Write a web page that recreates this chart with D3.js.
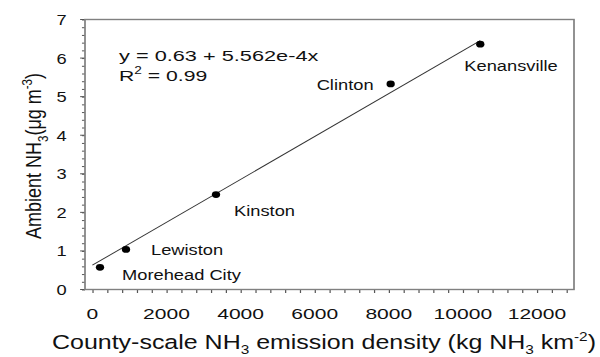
<!DOCTYPE html>
<html>
<head>
<meta charset="utf-8">
<script src="https://cdn.jsdelivr.net/npm/d3@7"></script>
<style>
  html, body { margin: 0; padding: 0; background: #fff; }
  svg { display: block; font-family: "Liberation Sans", Arial, sans-serif; }
</style>
</head>
<body>
<svg id="chart" width="600" height="357"></svg>
<script>
// ---- Dados
const sites = ['Morehead City', 'Lewiston', 'Kinston', 'Clinton', 'Kenansville'];
const emission = [205, 907, 3336, 8051, 10470];
const ambient = [0.575, 1.04, 2.46, 5.33, 6.36];
const xTicks = [0, 2000, 4000, 6000, 8000, 10000, 12000];
const yTicks = [0, 1, 2, 3, 4, 5, 6, 7];
const fit = { a: 0.63, b: 5.562e-4 };

// the original figure is stretched sideways, so draw narrow and stretch
const SX = 1.22;
const svg = d3.select('#chart')
    .attr('viewBox', `0 0 ${600 / SX} 357`)
    .attr('preserveAspectRatio', 'none');

const margens = { left: 85, right: 574, top: 19.5, bottom: 289.5 };

const x = d3.scaleLinear()
    .domain([-200, 13000])
    .range([margens.left / SX, margens.right / SX]);

const y = d3.scaleLinear()
    .domain([0, 7])
    .range([margens.bottom, margens.top]);

const frameColor = '#808080';

// ---- Eixos
const xAxis = svg.append('g')
    .attr('transform', `translate(0, ${margens.bottom})`);
xAxis.call(d3.axisBottom(x).tickValues(d3.range(0, 13000, 400)).tickSize(3.5).tickFormat(''))
    .call(g => g.select('.domain').remove())
    .call(g => g.selectAll('line').attr('stroke', '#555'));
xAxis.selectAll('.lbl')
    .data(xTicks).join('text')
    .attr('class', 'lbl')
    .attr('transform', d => `translate(${x(d)}, 29) scale(1.15, 1)`)
    .attr('text-anchor', 'middle')
    .attr('font-size', '15px').attr('fill', '#111')
    .text(d => d);

const yAxis = svg.append('g')
    .attr('transform', `translate(${margens.left / SX}, 0)`);
yAxis.call(d3.axisLeft(y).tickValues(d3.range(0, 7.01, 0.2)).tickSize(2.5).tickFormat(''))
    .call(g => g.select('.domain').remove())
    .call(g => g.selectAll('line').attr('stroke', '#555'));
yAxis.selectAll('.major')
    .data(yTicks).join('line')
    .attr('class', 'major')
    .attr('x1', -4).attr('x2', 0)
    .attr('y1', d => y(d)).attr('y2', d => y(d))
    .attr('stroke', '#555');
yAxis.selectAll('.lbl')
    .data(yTicks).join('text')
    .attr('class', 'lbl')
    .attr('x', -15).attr('y', d => y(d) + 5.5)
    .attr('text-anchor', 'end')
    .attr('font-size', '15px').attr('fill', '#111')
    .text(d => d);

// ---- Moldura
svg.append('rect')
    .attr('x', x.range()[0]).attr('y', margens.top)
    .attr('width', x.range()[1] - x.range()[0])
    .attr('height', margens.bottom - margens.top)
    .attr('fill', 'none')
    .attr('stroke', frameColor).attr('stroke-width', 1.4);

// ---- Regressão
const xLine = [0, d3.max(emission)];
svg.append('line')
    .attr('x1', x(xLine[0])).attr('y1', y(fit.a + fit.b * xLine[0]))
    .attr('x2', x(xLine[1])).attr('y2', y(fit.a + fit.b * xLine[1]))
    .attr('stroke', '#333').attr('stroke-width', 0.9);

// ---- Pontos
const points = sites.map((s, i) => ({ site: s, x: emission[i], y: ambient[i] }));
svg.selectAll('circle')
    .data(points).join('circle')
    .attr('cx', d => x(d.x)).attr('cy', d => y(d.y))
    .attr('r', 3.4)
    .attr('fill', '#000');

// rótulos: deslocamento em px de tela a partir do ponto
const labelOffsets = {
    'Morehead City': [22, 13],
    'Lewiston': [25, 6],
    'Kinston': [18, 21],
    'Clinton': [-74, 6.5],
    'Kenansville': [-16, 27]
};
svg.selectAll('.site')
    .data(points).join('text')
    .attr('class', 'site')
    .attr('x', d => x(d.x) + labelOffsets[d.site][0] / SX)
    .attr('y', d => y(d.y) + labelOffsets[d.site][1])
    .attr('font-size', '15px').attr('fill', '#111')
    .text(d => d.site);

// ---- Equação
const eq = svg.append('g').attr('font-size', '15.5px').attr('fill', '#111');
eq.append('text')
    .attr('transform', `translate(${119 / SX}, 61) scale(1.15, 1)`)
    .text(`y = ${fit.a} + ${fit.b.toExponential(3)}x`);
const r2 = eq.append('text').attr('transform', `translate(${119 / SX}, 81) scale(1.12, 1)`);
r2.append('tspan').text('R');
r2.append('tspan').attr('font-size', '10px').attr('dy', -7).text('2');
r2.append('tspan').attr('dy', 7).text(' = 0.99');

// ---- Títulos
const xt = svg.append('text')
    .attr('transform', `translate(${324 / SX}, 349) scale(1.05, 1)`)
    .attr('text-anchor', 'middle')
    .attr('font-size', '19.5px').attr('fill', '#111');
xt.append('tspan').text('County-scale NH');
xt.append('tspan').attr('font-size', '12px').attr('dy', 4.5).text('3');
xt.append('tspan').attr('dy', -4.5).text(' emission density (kg NH');
xt.append('tspan').attr('font-size', '12px').attr('dy', 4.5).text('3');
xt.append('tspan').attr('dy', -4.5).text(' km');
xt.append('tspan').attr('font-size', '12px').attr('dy', -8).text('-2');
xt.append('tspan').attr('dy', 8).text(')');

const yt = svg.append('text')
    .attr('transform', `translate(${41.5 / SX}, 156) rotate(-90)`)
    .attr('text-anchor', 'middle')
    .attr('font-size', '18px').attr('fill', '#111');
yt.append('tspan').text('Ambient NH');
yt.append('tspan').attr('font-size', '11.5px').attr('dy', 5).text('3');
yt.append('tspan').attr('dy', -5).text('(μg m');
yt.append('tspan').attr('font-size', '11.5px').attr('dy', -8).text('-3');
yt.append('tspan').attr('dy', 8).text(')');
</script>
</body>
</html>
